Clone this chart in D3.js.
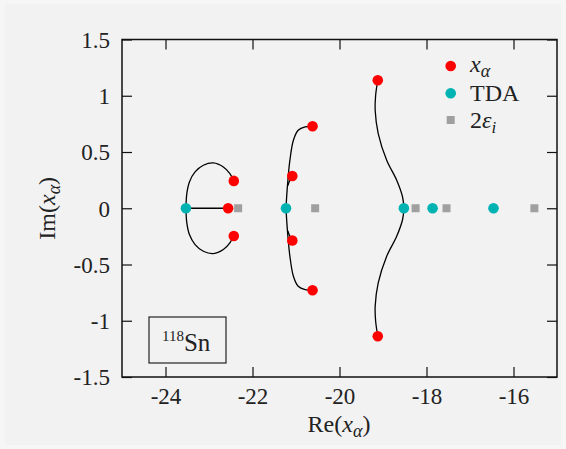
<!DOCTYPE html>
<html>
<head>
<meta charset="utf-8">
<title>118Sn roots</title>
<script src="https://cdn.jsdelivr.net/npm/d3@7"></script>
<style>
  html, body { margin: 0; padding: 0; background: #f6f6f6; }
  svg { display: block; font-family: "Liberation Serif", "DejaVu Serif", serif; }
</style>
</head>
<body>
<div id="chart"></div>
<script>
// roots x_alpha (complex)
var xaRe = [-22.56, -22.43, -22.43, -21.085, -21.085, -20.62, -20.62, -19.12, -19.12];
var xaIm = [0, 0.243, -0.246, 0.287, -0.287, 0.729, -0.729, 1.138, -1.138];

// TDA energies and unperturbed 2*eps_i
var tdaRe = [-23.53, -21.23, -18.52, -17.86, -16.46];
var epsRe = [-22.33, -20.56, -18.25, -17.54, -15.52];

// trajectories (upper halves, mirrored for the lower ones)
var trackA = [[-22.43, 0.243], [-22.52, 0.308], [-22.67, 0.367], [-22.90, 0.403], [-23.13, 0.382],
              [-23.32, 0.323], [-23.45, 0.234], [-23.51, 0.13], [-23.53, 0]];
var trackB = [[-23.53, 0], [-22.56, 0]];
var trackC = [[-21.23, 0], [-21.21, 0.13], [-21.18, 0.278], [-21.14, 0.427], [-21.06, 0.604],
              [-20.95, 0.693], [-20.79, 0.723], [-20.62, 0.729]];
var trackD = [[-21.085, 0.287], [-21.14, 0.25], [-21.19, 0.2]];
var trackE = [[-19.12, 1.138], [-19.17, 1.0], [-19.18, 0.871], [-19.11, 0.664], [-18.915, 0.427],
              [-18.685, 0.249], [-18.55, 0.1], [-18.52, 0]];

var xTicks = [-24, -22, -20, -18, -16];
var yTicks = [-1.5, -1, -0.5, 0, 0.5, 1, 1.5];

var W = 566, H = 449;
var pl = 122, pr = 557, pt = 39.5, pb = 377;
var ink = '#222';

var svg = d3.select('#chart').append('svg')
    .attr('width', W)
    .attr('height', H);

svg.append('rect')
    .attr('x', 5).attr('y', 4)
    .attr('width', W - 10).attr('height', H - 8)
    .attr('fill', '#f2f2f2');

var x = d3.scaleLinear().domain([-25, -15]).range([pl, pr]);
var y = d3.scaleLinear().domain([-1.5, 1.5]).range([pb, pt]);

// axes with inward ticks
var xAxis = svg.append('g')
    .attr('transform', 'translate(0,' + pb + ')')
    .call(d3.axisBottom(x).tickValues(xTicks).tickSizeInner(-10).tickSizeOuter(0).tickPadding(11));
var yAxis = svg.append('g')
    .attr('transform', 'translate(' + pl + ',0)')
    .call(d3.axisLeft(y).tickValues(yTicks).tickSizeInner(-10).tickSizeOuter(0).tickPadding(12));

svg.selectAll('.domain').remove();
svg.selectAll('.tick line').attr('stroke', '#111').attr('stroke-width', 1.2);
svg.selectAll('.tick text')
    .attr('font-family', '"Liberation Serif", serif')
    .attr('font-size', 23)
    .attr('fill', ink)
    .text(function(d) { return String(d); });
yAxis.selectAll('.tick text').attr('dy', '0.34em');

// mirrored ticks on top and right
svg.append('g')
    .attr('transform', 'translate(0,' + pt + ')')
    .call(d3.axisTop(x).tickValues(xTicks).tickSizeInner(-10).tickSizeOuter(0).tickFormat(''))
    .call(function(g) { g.select('.domain').remove(); g.selectAll('line').attr('stroke', '#111').attr('stroke-width', 1.2); });
svg.append('g')
    .attr('transform', 'translate(' + pr + ',0)')
    .call(d3.axisRight(y).tickValues(yTicks).tickSizeInner(-10).tickSizeOuter(0).tickFormat(''))
    .call(function(g) { g.select('.domain').remove(); g.selectAll('line').attr('stroke', '#111').attr('stroke-width', 1.2); });

svg.append('rect')
    .attr('x', pl).attr('y', pt)
    .attr('width', pr - pl).attr('height', pb - pt)
    .attr('fill', 'none')
    .attr('stroke', '#111')
    .attr('stroke-width', 1.5);

// trajectories
var line = d3.line()
    .x(function(d) { return x(d[0]); })
    .y(function(d) { return y(d[1]); })
    .curve(d3.curveCatmullRom.alpha(0.5));

function mirror(t) { return t.map(function(p) { return [p[0], -p[1]]; }); }

var tracks = [trackA, mirror(trackA), trackB, trackC, mirror(trackC), trackD, mirror(trackD), trackE, mirror(trackE)];
svg.append('g').selectAll('path')
    .data(tracks)
    .enter().append('path')
    .attr('d', line)
    .attr('fill', 'none')
    .attr('stroke', '#000')
    .attr('stroke-width', 1.3);

// 2 eps_i squares
svg.append('g').selectAll('rect')
    .data(epsRe)
    .enter().append('rect')
    .attr('x', function(d) { return x(d) - 4; })
    .attr('y', y(0) - 4)
    .attr('width', 8).attr('height', 8)
    .attr('fill', '#a0a0a0');

// TDA
svg.append('g').selectAll('circle')
    .data(tdaRe)
    .enter().append('circle')
    .attr('cx', function(d) { return x(d); })
    .attr('cy', y(0))
    .attr('r', 5.3)
    .attr('fill', '#00b3b3');

// x_alpha
svg.append('g').selectAll('circle')
    .data(xaRe)
    .enter().append('circle')
    .attr('cx', function(d) { return x(d); })
    .attr('cy', function(d, i) { return y(xaIm[i]); })
    .attr('r', 5.3)
    .attr('fill', '#ff0000');

// legend
var lg = svg.append('g');
lg.append('circle').attr('cx', 450.7).attr('cy', 66).attr('r', 5.3).attr('fill', '#ff0000');
lg.append('circle').attr('cx', 450.7).attr('cy', 93.3).attr('r', 5.3).attr('fill', '#00b3b3');
lg.append('rect').attr('x', 446.7).attr('y', 116).attr('width', 8).attr('height', 8).attr('fill', '#a0a0a0');

var t1 = lg.append('text').attr('x', 470).attr('y', 72).attr('font-size', 24).attr('fill', ink);
t1.append('tspan').attr('font-style', 'italic').text('x');
t1.append('tspan').attr('font-style', 'italic').attr('font-size', 18).attr('dy', 5).text('α');
lg.append('text').attr('x', 470).attr('y', 101).attr('font-size', 24).attr('fill', ink).text('TDA');
var t3 = lg.append('text').attr('x', 470).attr('y', 128).attr('font-size', 24).attr('fill', ink);
t3.append('tspan').text('2');
t3.append('tspan').attr('font-style', 'italic').text('ε');
t3.append('tspan').attr('font-style', 'italic').attr('font-size', 17).attr('dy', 5).text('i');

// axis titles
var xt = svg.append('text')
    .attr('x', 339).attr('y', 432)
    .attr('text-anchor', 'middle')
    .attr('font-size', 24).attr('fill', ink);
xt.append('tspan').text('Re(');
xt.append('tspan').attr('font-style', 'italic').text('x');
xt.append('tspan').attr('font-style', 'italic').attr('font-size', 18).attr('dy', 5).text('α');
xt.append('tspan').attr('dy', -5).text(')');

var yt = svg.append('text')
    .attr('transform', 'translate(55,' + y(0) + ') rotate(-90)')
    .attr('text-anchor', 'middle')
    .attr('font-size', 24).attr('fill', ink);
yt.append('tspan').text('Im(');
yt.append('tspan').attr('font-style', 'italic').text('x');
yt.append('tspan').attr('font-style', 'italic').attr('font-size', 18).attr('dy', 5).text('α');
yt.append('tspan').attr('dy', -5).text(')');

// nucleus label box
svg.append('rect')
    .attr('x', 149).attr('y', 317)
    .attr('width', 77).attr('height', 46)
    .attr('fill', 'none').attr('stroke', ink).attr('stroke-width', 1.2);
var sn = svg.append('text').attr('x', 162).attr('y', 351).attr('fill', ink);
sn.append('tspan').attr('font-size', 15).attr('dy', -10).text('118');
sn.append('tspan').attr('font-size', 25).attr('dy', 10).text('Sn');
</script>
</body>
</html>
